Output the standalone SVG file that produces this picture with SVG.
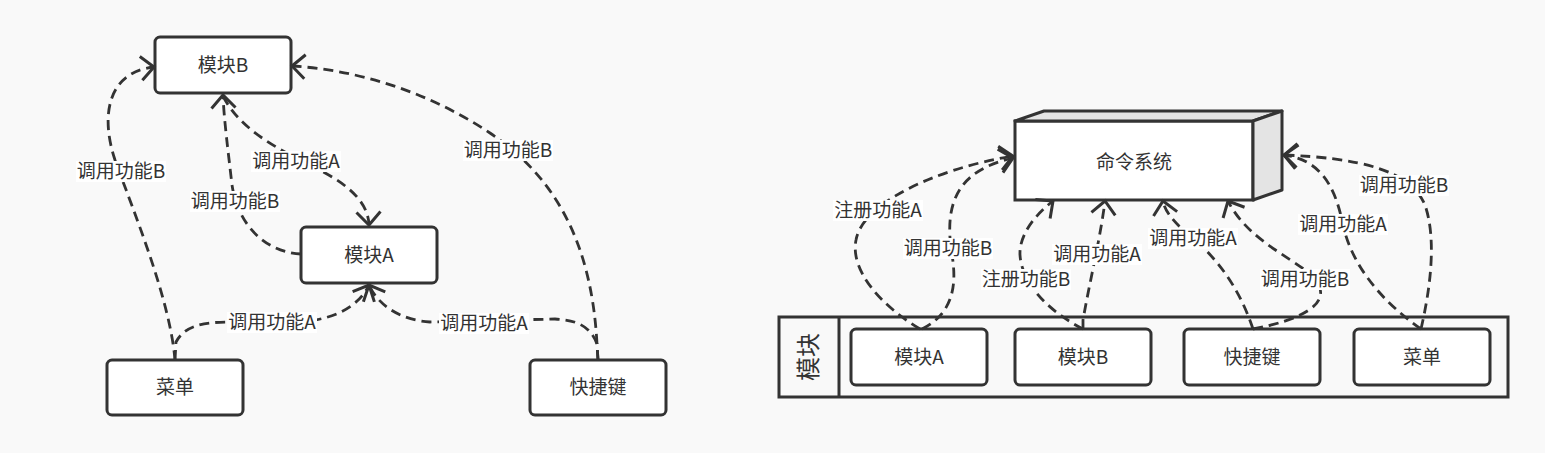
<svg xmlns="http://www.w3.org/2000/svg" width="1545" height="453" viewBox="0 0 1545 453">
<style>
.box{fill:#fff;stroke:#333;stroke-width:3}
.side{fill:#e4e4e4;stroke:#333;stroke-width:3;stroke-linejoin:round}
.t{font-family:'Noto Sans CJK SC','Noto Sans',sans-serif;font-size:19px;fill:#333;text-anchor:middle}
.edge{fill:none;stroke:#333;stroke-width:2.8;stroke-dasharray:10 6;marker-end:url(#arr)}
.bg{fill:#fff}
</style>
<defs>
<marker id="arr" markerUnits="userSpaceOnUse" markerWidth="18" markerHeight="28" viewBox="0 0 18 28" refX="15" refY="14" orient="auto">
<path d="M2,2 L15,14 L2,26" fill="none" stroke="#333" stroke-width="3"/>
</marker>
</defs>
<rect width="1545" height="453" fill="#f9f9f9"/>

<!-- Left diagram nodes -->
<g id="left-moduleB"><rect class="box" x="155" y="37" width="136" height="56" rx="5"/><text class="t" x="223" y="72">模块B</text></g>
<g id="left-moduleA"><rect class="box" x="301" y="227" width="136" height="56" rx="5"/><text class="t" x="369" y="262">模块A</text></g>
<g id="left-menu"><rect class="box" x="107" y="360" width="136" height="55" rx="5"/><text class="t" x="175" y="394">菜单</text></g>
<g id="left-shortcut"><rect class="box" x="530" y="360" width="136" height="55" rx="5"/><text class="t" x="598" y="394">快捷键</text></g>

<!-- Right diagram nodes -->
<g id="command-system">
<rect class="box" x="1015" y="121" width="238" height="79"/>
<polygon class="side" points="1015,121 1044,111 1282,111 1253,121"/>
<polygon class="side" points="1253,121 1282,111 1282,190 1253,200"/>
<text class="t" x="1134" y="169">命令系统</text>
</g>
<g id="module-container">
<rect x="779" y="317" width="729" height="80" fill="none" stroke="#333" stroke-width="3"/>
<line x1="839" y1="317" x2="839" y2="397" stroke="#333" stroke-width="3"/>
<text class="t" style="font-size:24px" transform="translate(809,357) rotate(-90)" y="8">模块</text>
</g>
<g id="right-moduleA"><rect class="box" x="851" y="329" width="136" height="56" rx="5"/><text class="t" x="919" y="364">模块A</text></g>
<g id="right-moduleB"><rect class="box" x="1015" y="329" width="136" height="56" rx="5"/><text class="t" x="1083" y="364">模块B</text></g>
<g id="right-shortcut"><rect class="box" x="1184" y="329" width="136" height="56" rx="5"/><text class="t" x="1252" y="364">快捷键</text></g>
<g id="right-menu"><rect class="box" x="1354" y="329" width="136" height="56" rx="5"/><text class="t" x="1422" y="364">菜单</text></g>

<!-- Connectors -->
<g id="connectors">
<path class="edge" d="M175,360 C170,300 135,215 115,160 C100,115 108,72 154,67"/>
<path class="edge" d="M175,360 L176,342 C185,325 205,322 230,322 L315,320 C345,315 362,300 369,285"/>
<path class="edge" d="M598,360 L597,344 C590,325 575,320 555,319 L430,322 C400,320 378,305 369,285"/>
<path class="edge" d="M598,360 L597,344 C592,250 560,180 490,133 C430,93 360,70 292,66"/>
<path class="edge" d="M301,254 C265,252 238,225 232,185 C228,150 224,120 223,95"/>
<path class="edge" d="M223,96 C240,130 280,150 310,165 C345,182 368,200 369,225"/>

<path class="edge" d="M920,329 C880,305 850,270 856,240 C862,205 930,170 1013,156"/>
<path class="edge" d="M922,329 C950,315 958,290 952,255 C943,200 960,170 1013,158"/>
<path class="edge" d="M1083,329 C1050,312 1022,285 1020,255 C1019,235 1035,215 1053,201"/>
<path class="edge" d="M1083,329 L1083,320 C1090,280 1100,240 1105,201"/>
<path class="edge" d="M1253,329 C1240,290 1220,262 1195,240 C1175,224 1165,212 1163,201"/>
<path class="edge" d="M1253,329 C1300,320 1330,305 1318,283 C1305,262 1250,245 1228,201"/>
<path class="edge" d="M1421,329 C1380,300 1352,265 1343,225 C1335,185 1320,160 1284,155"/>
<path class="edge" d="M1421,329 C1430,290 1437,240 1425,205 C1410,170 1360,158 1284,155"/>

<g id="labels">
<rect class="bg" x="76" y="161" width="90" height="21"/><text class="t" x="121" y="178">调用功能B</text>
<rect class="bg" x="251" y="151" width="90" height="21"/><text class="t" x="296" y="168">调用功能A</text>
<rect class="bg" x="190" y="191" width="90" height="21"/><text class="t" x="235" y="208">调用功能B</text>
<rect class="bg" x="227" y="312" width="90" height="21"/><text class="t" x="272" y="329">调用功能A</text>
<rect class="bg" x="439" y="313" width="90" height="21"/><text class="t" x="484" y="330">调用功能A</text>
<rect class="bg" x="463" y="140" width="90" height="21"/><text class="t" x="508" y="157">调用功能B</text>

<rect class="bg" x="833" y="200" width="90" height="21"/><text class="t" x="878" y="217">注册功能A</text>
<rect class="bg" x="903" y="238" width="90" height="21"/><text class="t" x="948" y="255">调用功能B</text>
<rect class="bg" x="981" y="269" width="90" height="21"/><text class="t" x="1026" y="286">注册功能B</text>
<rect class="bg" x="1052" y="244" width="90" height="21"/><text class="t" x="1097" y="261">调用功能A</text>
<rect class="bg" x="1148" y="228" width="90" height="21"/><text class="t" x="1193" y="245">调用功能A</text>
<rect class="bg" x="1260" y="269" width="90" height="21"/><text class="t" x="1305" y="286">调用功能B</text>
<rect class="bg" x="1298" y="214" width="90" height="21"/><text class="t" x="1343" y="231">调用功能A</text>
<rect class="bg" x="1359" y="175" width="90" height="21"/><text class="t" x="1404" y="192">调用功能B</text>
</g>
</g>
</svg>
